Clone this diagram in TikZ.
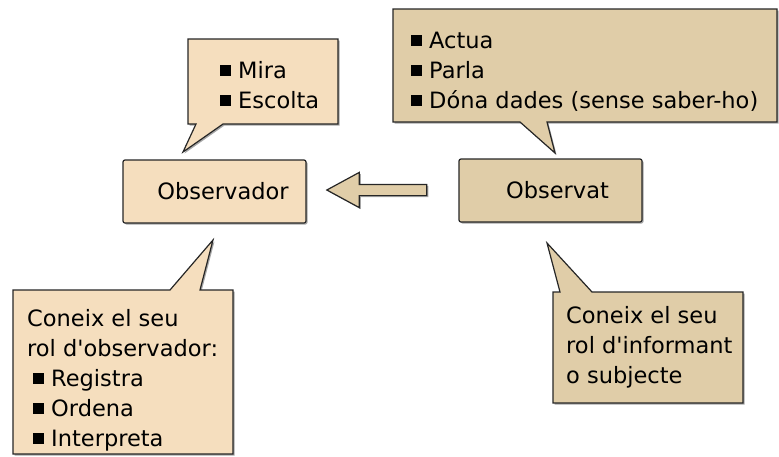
\documentclass[tikz,border=0pt]{standalone}
\usepackage{fontspec}
\setmainfont{DejaVu Sans}
\usetikzlibrary{shapes.arrows,shadows}

\definecolor{obslight}{RGB}{245,222,190}
\definecolor{obsdark}{RGB}{224,205,168}
\newcommand{\blt}{\rule[2.5pt]{11pt}{11pt}\hspace{7pt}}

\tikzset{
  bubble/.style={draw=black!85, line width=1.2pt,
    drop shadow={shadow xshift=1.5pt, shadow yshift=-1.5pt, fill=black!35, opacity=1}},
  mainbox/.style={bubble, rounded corners=2pt, minimum width=183pt, minimum height=63pt,
    inner sep=0pt, font=\fontsize{22.5}{30}\selectfont},
  bubbletext/.style={anchor=base west, inner sep=0pt, align=left,
    font=\fontsize{22.5}{30}\selectfont}
}

\begin{document}
\begin{tikzpicture}[x=1pt,y=-1pt]
  \useasboundingbox (0,0) rectangle (779,456);

  % Drawing callout of observador (top), text placed by its last line
  \draw [bubble, fill=obslight] (188,39) -- (338,39) -- (338,124) -- (223,124)
    -- (183,152) -- (196,124) -- (188,124) -- cycle;
  \node [bubbletext] (mira) at (220,108) {\blt Mira\\ \blt Escolta};

  % Drawing callout of observat (top)
  \draw [bubble, fill=obsdark] (393,9) -- (777,9) -- (777,122) -- (547,122)
    -- (555,153) -- (520,122) -- (393,122) -- cycle;
  \node [bubbletext] (actua) at (411,108) {\blt Actua\\ \blt Parla\\ \blt Dóna dades (sense saber-ho)};

  % Drawing callout of observador (bottom)
  \draw [bubble, fill=obslight] (13,290) -- (170,290) -- (213,240) -- (200,290)
    -- (233,290) -- (233,454) -- (13,454) -- cycle;
  \node [bubbletext] (coneixobs) at (27,446) {Coneix el seu\\ rol d\textquotesingle observador:\\
    \hspace*{6pt}\blt Registra\\ \hspace*{6pt}\blt Ordena\\ \hspace*{6pt}\blt Interpreta};

  % Drawing callout of observat (bottom)
  \draw [bubble, fill=obsdark] (553,292) -- (560,292) -- (547,243) -- (592,292)
    -- (743,292) -- (743,403) -- (553,403) -- cycle;
  \node [bubbletext] (coneixinf) at (566,383) {Coneix el seu\\ rol d\textquotesingle informant\\ o subjecte};

  % Drawing boxes
  \node [mainbox, fill=obslight] (observador) at (214.5,191.5) {\hspace*{17pt}Observador};
  \node [mainbox, fill=obsdark] (observat) at (550.5,190.5) {\hspace*{14pt}Observat};

  % Drawing arrow from observat to observador
  \node [single arrow, shape border rotate=180, bubble, fill=obsdark,
    inner xsep=0pt, inner ysep=5pt, minimum height=100pt,
    single arrow head extend=12pt, single arrow tip angle=57] (flow) at (382,190) {};
\end{tikzpicture}
\end{document}
